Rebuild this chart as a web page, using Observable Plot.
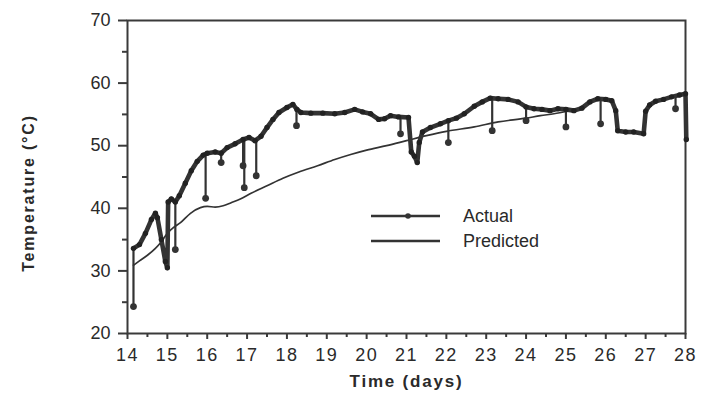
<!DOCTYPE html>
<html><head><meta charset="utf-8">
<script src="https://cdn.jsdelivr.net/npm/d3@7"></script>
<script src="https://cdn.jsdelivr.net/npm/@observablehq/plot@0.6"></script>
<style>
body{margin:0;background:#fff;}
#wrap{position:relative;width:705px;height:397px;font-family:"Liberation Sans",Arial,sans-serif;}
#wrap svg.chart text{fill:#2a2a2a;}
#legend{position:absolute;left:365px;top:200px;}
#legend text{font-family:"Liberation Sans",Arial,sans-serif;font-size:18px;fill:#2a2a2a;}
</style></head><body><div id="wrap"></div>
<script>
// ---- data ----
const actualDay = [14.15,14.3,14.45,14.6,14.7,14.75,14.85,14.95,15.0,15.02,15.1,15.2,15.3,15.45,15.6,15.75,15.9,16.0,16.2,16.35,16.5,16.7,16.9,17.05,17.2,17.35,17.5,17.65,17.8,18.0,18.15,18.25,18.35,18.6,18.9,19.2,19.45,19.7,19.9,20.1,20.3,20.45,20.6,20.8,21.05,21.12,21.2,21.27,21.32,21.4,21.6,21.85,22.05,22.25,22.45,22.7,22.9,23.1,23.3,23.55,23.8,24.0,24.2,24.4,24.6,24.8,25.0,25.2,25.4,25.6,25.8,26.0,26.15,26.25,26.3,26.5,26.7,26.95,27.0,27.1,27.25,27.45,27.65,27.85,28.0,28.02];
const actualTemp = [33.6,34.2,36.0,38.2,39.2,38.5,35.0,31.5,30.5,41.0,41.5,41.0,42.0,44.0,46.0,47.5,48.5,48.8,49.0,48.8,49.7,50.3,51.0,51.3,50.8,51.5,52.9,54.2,55.3,56.1,56.6,55.8,55.3,55.2,55.2,55.1,55.3,55.8,55.4,55.1,54.2,54.3,54.8,54.6,54.5,49.0,48.3,47.3,50.5,52.2,52.9,53.5,54.0,54.4,55.1,56.3,57.0,57.6,57.5,57.4,57.0,56.2,55.9,55.8,55.6,55.9,55.8,55.6,56.0,57.0,57.5,57.4,57.2,55.6,52.4,52.2,52.2,51.9,55.5,56.5,57.1,57.4,57.8,58.1,58.3,51.0];
const spikeDay  = [14.15,15.2,15.96,16.35,16.9,16.93,17.23,18.24,20.85,22.05,23.15,24.0,25.0,25.87,27.75];
const spikeTop  = [33.6,41.0,48.8,48.8,51.0,51.0,50.8,55.8,54.6,54.0,57.6,56.2,55.8,57.5,57.9];
const spikeLow  = [24.3,33.4,41.6,47.3,46.8,43.3,45.2,53.2,51.9,50.5,52.4,54.0,53.0,53.5,55.9];
const predictedDay  = [14.15,14.3,14.5,14.7,14.83,15.0,15.15,15.33,15.58,15.83,16.0,16.2,16.4,16.6,16.83,17.1,17.5,17.9,18.3,18.77,19.2,19.6,20.0,20.5,21.0,21.5,22.0,22.7,23.3,24.0,24.36,24.7,25.05];
const predictedTemp = [30.9,31.6,32.5,33.6,34.5,36.0,36.9,37.7,39.2,40.1,40.3,40.2,40.4,40.9,41.5,42.4,43.6,44.8,45.8,46.8,47.8,48.6,49.3,50.0,50.8,51.6,52.3,53.0,53.8,54.4,54.8,55.1,55.5];
const xTicks = [14,15,16,17,18,19,20,21,22,23,24,25,26,27,28];
const xMinorTicks = [14.5,15.5,16.5,17.5,18.5,19.5,20.5,21.5,22.5,23.5,24.5,25.5,26.5,27.5];
const yTicks = [20,30,40,50,60,70];
const yMinorTicks = [25,35,45,55,65];
const xTitle = "Time (days)";
const yTitle = "Temperature (°C)";
const seriesNames = ["Actual","Predicted"];

const actual = actualDay.map((d,i)=>({day:d,temp:actualTemp[i]}));
const spikes = spikeDay.map((d,i)=>({day:d,top:spikeTop[i],low:spikeLow[i]}));
const predicted = predictedDay.map((d,i)=>({day:d,temp:predictedTemp[i]}));

const ink = "#333";
const chart = Plot.plot({
  width:705, height:397,
  marginLeft:127, marginRight:20, marginTop:20, marginBottom:64,
  style:{fontFamily:"'Liberation Sans',Arial,sans-serif", fontSize:"18px", background:"white", color:"#2a2a2a"},
  x:{domain:[14,28]},
  y:{domain:[20,70]},
  marks:[
    Plot.frame({stroke:"#3a3a3a", strokeWidth:2}),
    Plot.axisX({ticks:xTicks, tickSize:6, tickPadding:9, label:null, strokeWidth:2, stroke:"#3a3a3a"}),
    Plot.axisX({ticks:xMinorTicks, tickSize:4, tickFormat:()=>"", label:null, strokeWidth:2, stroke:"#3a3a3a"}),
    Plot.axisY({ticks:yTicks, tickSize:9, tickPadding:8, label:null, strokeWidth:2, stroke:"#3a3a3a"}),
    Plot.axisY({ticks:yMinorTicks, tickSize:5, tickFormat:()=>"", label:null, strokeWidth:2, stroke:"#3a3a3a"}),
    Plot.line(predicted, {x:"day", y:"temp", stroke:ink, strokeWidth:1.7, curve:"monotone-x"}),
    Plot.ruleX(spikes, {x:"day", y1:"top", y2:"low", stroke:ink, strokeWidth:2.2}),
    Plot.dot(spikes, {x:"day", y:"low", r:3.4, fill:ink}),
    Plot.line(actual, {x:"day", y:"temp", stroke:ink, strokeWidth:4.6, strokeLinejoin:"round"}),
    Plot.dot(actual, {x:"day", y:"temp", r:2.7, fill:"#222"}),
    Plot.text([xTitle], {frameAnchor:"bottom", dy:53, fontWeight:"bold", fontSize:17, fill:"#2a2a2a"}),
    Plot.text([yTitle], {frameAnchor:"left", textAnchor:"middle", dx:-99, dy:16, rotate:-90, fontWeight:"bold", fontSize:16, fill:"#2a2a2a"})
  ]
});
chart.classList.add("chart");
d3.select(chart).selectAll('g[aria-label="x-axis tick label"] text').style("letter-spacing","1.5px");
d3.select(chart).selectAll('g[aria-label="text"] text').style("letter-spacing","1.8px");
document.getElementById("wrap").appendChild(chart);

// legend
const lg = d3.select("#wrap").append("svg").attr("id","legend").attr("width",220).attr("height",60);
lg.append("line").attr("x1",6).attr("x2",75).attr("y1",16).attr("y2",16).attr("stroke",ink).attr("stroke-width",2.5);
lg.append("circle").attr("cx",43).attr("cy",16).attr("r",2.8).attr("fill",ink);
lg.append("line").attr("x1",6).attr("x2",75).attr("y1",41).attr("y2",41).attr("stroke",ink).attr("stroke-width",2.5);
lg.append("text").attr("x",98).attr("y",22).text(seriesNames[0]);
lg.append("text").attr("x",98).attr("y",47).text(seriesNames[1]);
</script>
</body></html>
